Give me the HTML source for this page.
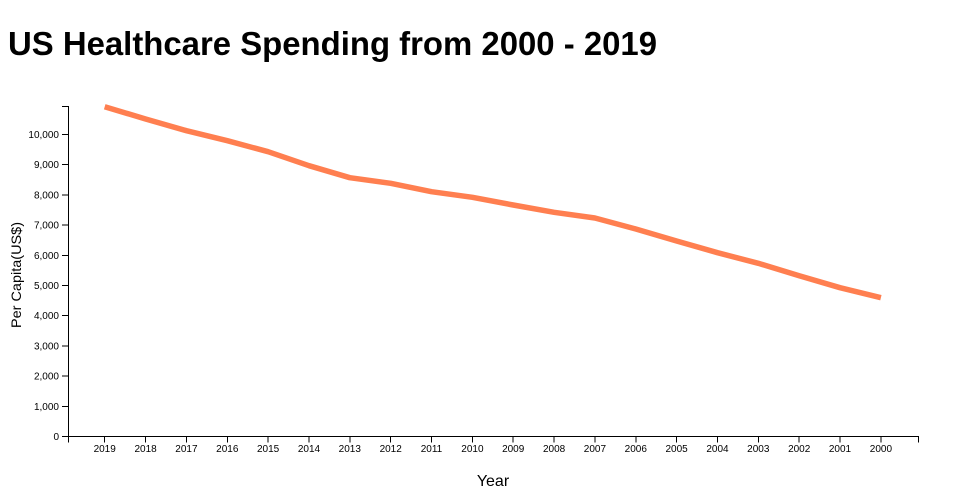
<!DOCTYPE html>
<html><head><meta charset="utf-8"><style>
html,body{margin:0;padding:0;background:#fff;}
svg{display:block;}
text{font-family:"Liberation Sans","DejaVu Sans",sans-serif;fill:#000;}
</style></head><body>
<svg width="960" height="500" viewBox="0 0 960 500" xmlns="http://www.w3.org/2000/svg">
<text x="8" y="55" font-size="33" font-weight="bold" textLength="649" lengthAdjust="spacingAndGlyphs">US Healthcare Spending from 2000 - 2019</text>

<g stroke="#000" stroke-width="1" fill="none" shape-rendering="crispEdges">
<path d="M62,106.5H68.5V436.5H62"/>
<path d="M68.5,442.5V436.5H918.5V442.5"/>
<path d="M62,134.5H68.5M62,164.7H68.5M62,194.9H68.5M62,225.1H68.5M62,255.3H68.5M62,285.5H68.5M62,315.7H68.5M62,345.9H68.5M62,376.1H68.5M62,406.3H68.5"/>
<path d="M104.7,436.5V442.5M145.6,436.5V442.5M186.4,436.5V442.5M227.3,436.5V442.5M268.1,436.5V442.5M309,436.5V442.5M349.8,436.5V442.5M390.7,436.5V442.5M431.5,436.5V442.5M472.4,436.5V442.5M513.2,436.5V442.5M554.1,436.5V442.5M594.9,436.5V442.5M635.8,436.5V442.5M676.6,436.5V442.5M717.5,436.5V442.5M758.3,436.5V442.5M799.2,436.5V442.5M840,436.5V442.5M880.9,436.5V442.5"/>
</g>

<g font-size="10" text-anchor="end">
<text x="59" y="138">10,000</text>
<text x="59" y="168.2">9,000</text>
<text x="59" y="198.4">8,000</text>
<text x="59" y="228.6">7,000</text>
<text x="59" y="258.8">6,000</text>
<text x="59" y="289">5,000</text>
<text x="59" y="319.2">4,000</text>
<text x="59" y="349.4">3,000</text>
<text x="59" y="379.6">2,000</text>
<text x="59" y="409.8">1,000</text>
<text x="59" y="440">0</text>
</g>

<g font-size="10" text-anchor="middle">
<text x="104.7" y="452">2019</text>
<text x="145.6" y="452">2018</text>
<text x="186.4" y="452">2017</text>
<text x="227.3" y="452">2016</text>
<text x="268.1" y="452">2015</text>
<text x="309" y="452">2014</text>
<text x="349.8" y="452">2013</text>
<text x="390.7" y="452">2012</text>
<text x="431.5" y="452">2011</text>
<text x="472.4" y="452">2010</text>
<text x="513.2" y="452">2009</text>
<text x="554.1" y="452">2008</text>
<text x="594.9" y="452">2007</text>
<text x="635.8" y="452">2006</text>
<text x="676.6" y="452">2005</text>
<text x="717.5" y="452">2004</text>
<text x="758.3" y="452">2003</text>
<text x="799.2" y="452">2002</text>
<text x="840" y="452">2001</text>
<text x="880.9" y="452">2000</text>
</g>

<text x="493" y="486" font-size="16" text-anchor="middle">Year</text>
<text transform="translate(21,275) rotate(-90)" x="-53" y="0" font-size="14" textLength="106" lengthAdjust="spacingAndGlyphs">Per Capita(US$)</text>

<polyline fill="none" stroke="#ff7f50" stroke-width="5.5" stroke-linejoin="round" points="104.7,106.7 145.6,119 186.4,130.7 227.3,140.7 268.1,151.7 309,165.7 349.8,177.7 390.7,183.3 431.5,191.7 472.4,197.3 513.2,205 554.1,212.3 594.9,218 635.8,229 676.6,241 717.5,252.7 758.3,263.3 799.2,275.7 840,287.7 880.9,297.7"/>
</svg>
</body></html>
